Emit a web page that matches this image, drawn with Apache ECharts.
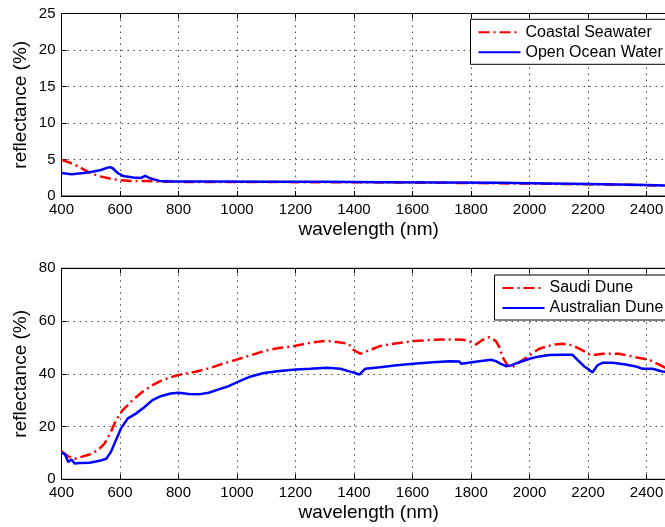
<!DOCTYPE html>
<html>
<head>
<meta charset="utf-8">
<script src="https://cdn.jsdelivr.net/npm/echarts@6/dist/echarts.min.js"></script>
<style>
html,body{margin:0;padding:0;background:#fff;}
#chart{width:665px;height:527px;}
</style>
</head>
<body>
<div id="chart"></div>
<script>
// ---- Top panel: water ----
const coastalWl  = [400, 430, 460, 495, 530, 565, 600, 640, 690, 735, 800, 1000, 1200, 1400, 1600, 1800, 2000, 2200, 2400, 2500];
const coastalRef = [4.95, 4.55, 4.0, 3.2, 2.7, 2.4, 2.16, 2.07, 2.07, 1.95, 1.93, 1.92, 1.9, 1.88, 1.84, 1.78, 1.7, 1.6, 1.48, 1.38];

const oceanWl  = [400, 435, 475, 505, 535, 555, 565, 575, 592, 610, 645, 672, 686, 705, 735, 780, 900, 1100, 1300, 1500, 1700, 1900, 2000, 2200, 2400, 2500];
const oceanRef = [3.15, 2.97, 3.15, 3.33, 3.56, 3.85, 3.96, 3.8, 3.15, 2.75, 2.52, 2.48, 2.75, 2.39, 2.07, 1.98, 1.97, 1.95, 1.94, 1.9, 1.85, 1.8, 1.76, 1.65, 1.52, 1.4];

// ---- Bottom panel: dunes ----
const saudiWl  = [400, 423, 445, 468, 496, 524, 547, 569, 586, 609, 643, 677, 711, 745, 779, 812, 858, 903, 948, 993, 1047, 1092, 1138, 1200, 1251, 1308, 1353, 1381, 1398, 1421, 1455, 1489, 1546, 1602, 1670, 1726, 1772, 1800, 1817, 1840, 1863, 1885, 1897, 1908, 1925, 1942, 1965, 2000, 2033, 2079, 2113, 2147, 2181, 2210, 2250, 2306, 2363, 2409, 2443, 2460, 2500];
const saudiRef = [10.5, 8.7, 7.8, 8.5, 9.4, 11.0, 13.5, 18.0, 22.4, 26.2, 30.0, 33.2, 35.7, 37.6, 38.9, 39.9, 40.8, 42.0, 43.7, 45.2, 47.0, 48.6, 49.7, 50.6, 51.8, 52.5, 51.9, 51.4, 49.1, 47.6, 49.1, 50.5, 51.6, 52.4, 52.9, 53.0, 52.9, 52.0, 51.1, 52.9, 53.9, 52.4, 50.1, 46.3, 43.2, 42.5, 44.4, 47.0, 49.5, 51.0, 51.4, 50.8, 48.9, 47.0, 47.6, 47.6, 46.3, 45.3, 43.5, 42.5, 40.5];

const ausWl  = [400, 411, 423, 434, 445, 462, 496, 530, 553, 569, 586, 603, 626, 654, 682, 711, 739, 773, 801, 835, 869, 903, 937, 971, 1005, 1047, 1092, 1138, 1200, 1251, 1308, 1353, 1381, 1404, 1418, 1438, 1489, 1546, 1602, 1670, 1726, 1760, 1766, 1772, 1828, 1868, 1885, 1902, 1920, 1937, 1965, 2000, 2033, 2068, 2113, 2147, 2164, 2187, 2204, 2215, 2232, 2250, 2284, 2329, 2363, 2386, 2420, 2454, 2500];
const ausRef = [10.0, 9.7, 6.6, 7.5, 6.0, 6.2, 6.3, 7.0, 7.8, 10.4, 14.8, 19.2, 23.0, 24.9, 27.2, 30.0, 31.5, 32.5, 32.8, 32.3, 32.2, 32.8, 34.1, 35.3, 37.0, 39.0, 40.3, 41.0, 41.6, 41.9, 42.3, 41.9, 41.0, 40.3, 39.7, 41.9, 42.5, 43.2, 43.8, 44.4, 44.8, 44.7, 43.8, 44.4, 44.8, 45.3, 44.8, 43.8, 42.9, 43.2, 44.4, 45.7, 46.6, 47.1, 47.2, 47.2, 45.3, 42.8, 41.5, 40.5, 43.2, 44.2, 44.2, 43.5, 42.8, 41.9, 41.9, 40.9, 40.3];

const seriesNames = ['Coastal Seawater', 'Open Ocean Water', 'Saudi Dune', 'Australian Dune'];
const xLabel = 'wavelength (nm)';
const yLabel = 'reflectance (%)';

function pairs(xs, ys) { return xs.map((x, i) => [x, ys[i]]); }

const FONT = 'Liberation Sans, Arial, Helvetica, sans-serif';
const gridLine = { show: true, lineStyle: { color: '#444', type: [1.5, 4.5], width: 1 } };

function bottomX(gi) {
  return {
    type: 'value', gridIndex: gi, min: 400, max: 2500, interval: 200,
    position: 'bottom',
    name: xLabel, nameLocation: 'middle', nameGap: 24, nameMoveOverlap: false,
    nameTextStyle: { fontSize: 19, color: '#000', fontFamily: FONT },
    axisLine: { show: true, lineStyle: { color: '#000', width: 1 } },
    axisTick: { show: true, inside: true, length: 5, lineStyle: { color: '#000' } },
    axisLabel: { show: true, fontSize: 15, color: '#000', fontFamily: FONT, margin: 6, showMaxLabel: false,
      formatter: v => String(v) },
    splitLine: gridLine
  };
}
function topX(gi) {
  return {
    type: 'value', gridIndex: gi, min: 400, max: 2500, interval: 200,
    position: 'top',
    axisLine: { show: true, lineStyle: { color: '#000', width: 1 } },
    axisTick: { show: true, inside: true, length: 5, lineStyle: { color: '#000' } },
    axisLabel: { show: false },
    splitLine: { show: false }
  };
}
function leftY(gi, max, interval) {
  return {
    type: 'value', gridIndex: gi, min: 0, max: max, interval: interval,
    name: yLabel, nameLocation: 'middle', nameGap: 31, nameRotate: 90, nameMoveOverlap: false,
    nameTextStyle: { fontSize: 19, color: '#000', fontFamily: FONT },
    axisLine: { show: true, lineStyle: { color: '#000', width: 1 } },
    axisTick: { show: true, inside: true, length: 5, lineStyle: { color: '#000' } },
    axisLabel: { show: true, fontSize: 15, color: '#000', fontFamily: FONT, margin: 6 },
    splitLine: gridLine
  };
}

const chart = echarts.init(document.getElementById('chart'), null, { renderer: 'canvas' });

const redStyle = { color: '#ff0000', width: 2.5, type: [11, 4, 2, 4] };
const blueStyle = { color: '#0000ff', width: 2.5, type: 'solid' };

const legendCommon = {
  orient: 'vertical', itemWidth: 42, itemHeight: 14, itemGap: 4,
  backgroundColor: '#fff', borderColor: '#000', borderWidth: 1,
  padding: [5, 6, 4, 7],
  textStyle: { fontSize: 16, color: '#000', fontFamily: FONT },
  itemStyle: { opacity: 0 },
  borderRadius: 0
};

const gridCommon = { show: true, borderColor: '#000', borderWidth: 1, backgroundColor: 'transparent',
  outerBoundsMode: 'none', containLabel: false };

chart.setOption({
  animation: false,
  backgroundColor: '#fff',
  textStyle: { fontFamily: FONT },
  grid: [
    Object.assign({ left: 61.5, top: 13.5, width: 614.3, height: 182.5 }, gridCommon),
    Object.assign({ left: 61.5, top: 268.3, width: 614.3, height: 211 }, gridCommon)
  ],
  xAxis: [bottomX(0), topX(0), bottomX(1), topX(1)],
  yAxis: [leftY(0, 25, 5), leftY(1, 80, 20)],
  legend: [
    Object.assign({}, legendCommon, { left: 470.5, top: 19.3, data: [seriesNames[0], seriesNames[1]] }),
    Object.assign({}, legendCommon, { left: 494.5, top: 275, data: [seriesNames[2], seriesNames[3]] })
  ],
  series: [
    { name: seriesNames[0], type: 'line', xAxisIndex: 0, yAxisIndex: 0, data: pairs(coastalWl, coastalRef),
      symbol: 'none', showSymbol: false, lineStyle: redStyle, itemStyle: { color: '#ff0000' }, z: 2 },
    { name: seriesNames[1], type: 'line', xAxisIndex: 0, yAxisIndex: 0, data: pairs(oceanWl, oceanRef),
      symbol: 'none', showSymbol: false, lineStyle: blueStyle, itemStyle: { color: '#0000ff' }, z: 3 },
    { name: seriesNames[2], type: 'line', xAxisIndex: 2, yAxisIndex: 1, data: pairs(saudiWl, saudiRef),
      symbol: 'none', showSymbol: false, lineStyle: redStyle, itemStyle: { color: '#ff0000' }, z: 2 },
    { name: seriesNames[3], type: 'line', xAxisIndex: 2, yAxisIndex: 1, data: pairs(ausWl, ausRef),
      symbol: 'none', showSymbol: false, lineStyle: blueStyle, itemStyle: { color: '#0000ff' }, z: 3 }
  ]
});
</script>
</body>
</html>
